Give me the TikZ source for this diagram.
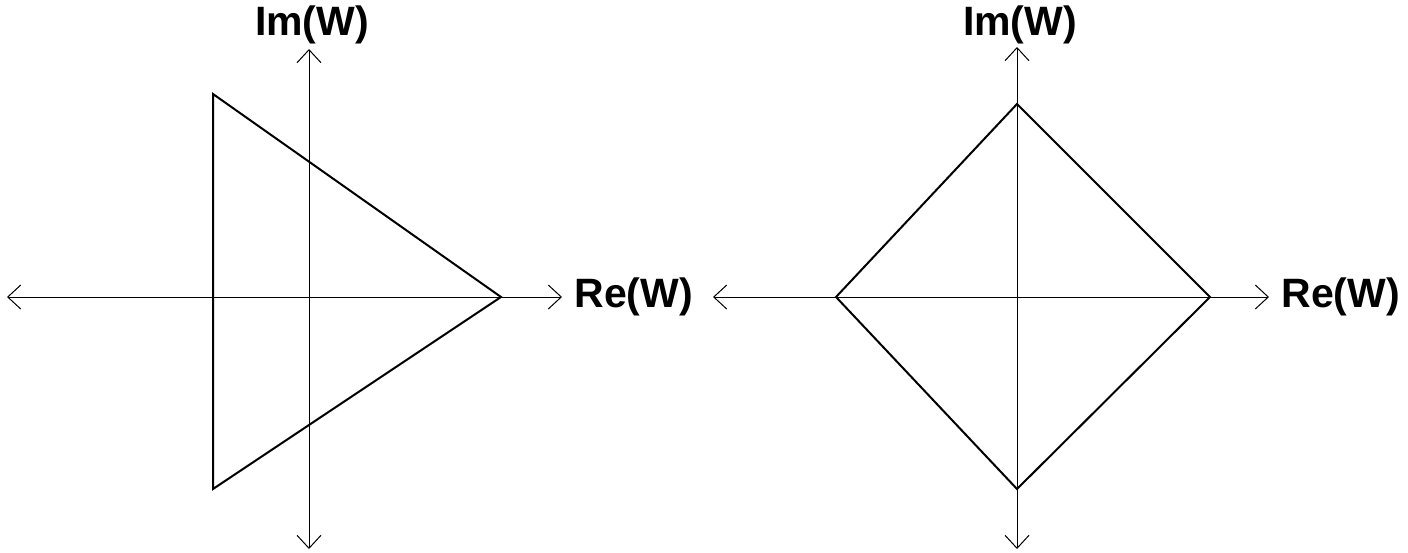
\documentclass[tikz,border=0pt]{standalone}
\usepackage{fontspec}
\setmainfont{Liberation Sans}
\usetikzlibrary{arrows.meta}

\begin{document}
\begin{tikzpicture}[x=0.5pt,y=-0.5pt,
    axis/.style={line width=0.5pt,{Straight Barb[length=6.5pt,width=12pt]}-{Straight Barb[length=6.5pt,width=12pt]}},
    outline/.style={line width=1pt,line join=miter},
    lbl/.style={inner sep=0pt,font=\fontsize{20.5}{24}\selectfont\bfseries}]
            \useasboundingbox (0,0) rectangle (1408,552);

            % left plane: triangle
            \coordinate (L1) at (7,297);
            \coordinate (L2) at (562,297);
            \coordinate (L3) at (309,49);
            \coordinate (L4) at (309,549);
            \draw[axis] (L1)--(L2);
            \draw[axis] (L4)--(L3);
            \node[lbl,anchor=west] (reL) at (574,297) {Re(W)};
            \node[lbl,anchor=base] (imL) at (312,35) {Im(W)};

            \coordinate (A1) at (213,94);
            \coordinate (A2) at (501,297);
            \coordinate (A3) at (213,489);
            \draw[outline] (A1)--(A2)--(A3)--cycle;

            % right plane: diamond
            \coordinate (R1) at (713,297);
            \coordinate (R2) at (1269,297);
            \coordinate (R3) at (1017,47);
            \coordinate (R4) at (1017,549);
            \draw[axis] (R1)--(R2);
            \draw[axis] (R4)--(R3);
            \node[lbl,anchor=west] (reR) at (1281,297) {Re(W)};
            \node[lbl,anchor=base] (imR) at (1020,35) {Im(W)};

            \coordinate (B1) at (1017,104);
            \coordinate (B2) at (1210,297);
            \coordinate (B3) at (1017,489);
            \coordinate (B4) at (836,297);
            \draw[outline] (B1)--(B2)--(B3)--(B4)--cycle;
\end{tikzpicture}
\end{document}
